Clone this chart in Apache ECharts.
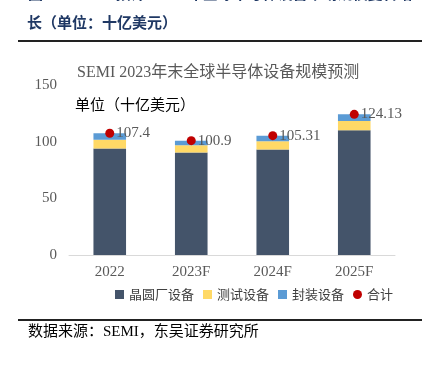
<!DOCTYPE html>
<html>
<head>
<meta charset="utf-8">
<script src="https://cdn.jsdelivr.net/npm/echarts@6/dist/echarts.min.js"></script>
<style>
  html, body { margin: 0; padding: 0; background: #fff; }
  #chart { width: 425px; height: 366px; }
</style>
</head>
<body>
<div id="chart"></div>
<script>
const categories = ["2022", "2023F", "2024F", "2025F"];
const fabEquipment = [94.0, 90.4, 93.0, 110.0];
const testEquipment = [7.6, 6.5, 7.4, 8.2];
const packagingEquipment = [5.8, 4.0, 4.91, 5.93];
const totals = [107.4, 100.9, 105.31, 124.13];
const yTicks = [0, 50, 100, 150];

const serif = "'Liberation Serif', 'Times New Roman', serif";
const cjk = "'Noto Sans CJK SC', sans-serif";

const chart = echarts.init(document.getElementById("chart"));

const option = {
  animation: false,
  graphic: [
    // header, top line is cut off by the page edge
    { type: "text", left: 28, top: -14, style: { text: "图13：SEMI 预计 2025 年全球半导体设备市场规模复合增", fill: "#1F3864", font: "bold 15px " + cjk } },
    { type: "text", left: 27, top: 15, style: { text: "长（单位：十亿美元）", fill: "#1F3864", font: "bold 15px " + cjk } },
    { type: "rect", shape: { x: 18, y: 40, width: 404, height: 2 }, style: { fill: "#222" } },
    { type: "text", left: 77, top: 65, style: { text: "SEMI 2023年末全球半导体设备规模预测", fill: "#595959", font: "16px " + serif + ", " + cjk } },
    { type: "text", left: 75, top: 97, style: { text: "单位（十亿美元）", fill: "#000", font: "15px " + cjk } },
    { type: "rect", shape: { x: 18, y: 319, width: 404, height: 2 }, style: { fill: "#222" } },
    { type: "text", left: 28, top: 325, style: { text: "数据来源：SEMI，东吴证券研究所", fill: "#000", font: "15px " + serif + ", " + cjk } }
  ],
  grid: { left: 69, right: 30, top: 85, bottom: 111 },
  legend: {
    left: 110,
    top: 283,
    itemWidth: 9,
    itemHeight: 9,
    itemGap: 9,
    textStyle: { color: "#404040", fontSize: 13, fontFamily: cjk },
    data: [
      { name: "晶圆厂设备", icon: "rect" },
      { name: "测试设备", icon: "rect" },
      { name: "封装设备", icon: "rect" },
      { name: "合计", icon: "circle" }
    ]
  },
  xAxis: {
    type: "category",
    data: categories,
    axisTick: { show: false },
    axisLine: { lineStyle: { color: "#D9D9D9", width: 1 } },
    axisLabel: { color: "#595959", fontSize: 15, fontFamily: serif, margin: 10 }
  },
  yAxis: {
    type: "value",
    min: yTicks[0],
    max: yTicks[yTicks.length - 1],
    interval: 50,
    splitLine: { show: false },
    axisLine: { show: false },
    axisTick: { show: false },
    axisLabel: { color: "#595959", fontSize: 15, fontFamily: serif, margin: 12 }
  },
  series: [
    { name: "晶圆厂设备", type: "bar", stack: "total", barWidth: "40%", data: fabEquipment, itemStyle: { color: "#44546A" } },
    { name: "测试设备", type: "bar", stack: "total", data: testEquipment, itemStyle: { color: "#FFD966" } },
    { name: "封装设备", type: "bar", stack: "total", data: packagingEquipment, itemStyle: { color: "#5B9BD5" } },
    {
      name: "合计",
      type: "line",
      data: totals,
      symbol: "circle",
      symbolSize: 9,
      itemStyle: { color: "#C00000" },
      lineStyle: { opacity: 0 },
      z: 5,
      label: {
        show: true,
        position: "right",
        distance: 2,
        color: "#595959",
        fontSize: 15,
        fontFamily: serif
      }
    }
  ]
};

chart.setOption(option);
</script>
</body>
</html>
